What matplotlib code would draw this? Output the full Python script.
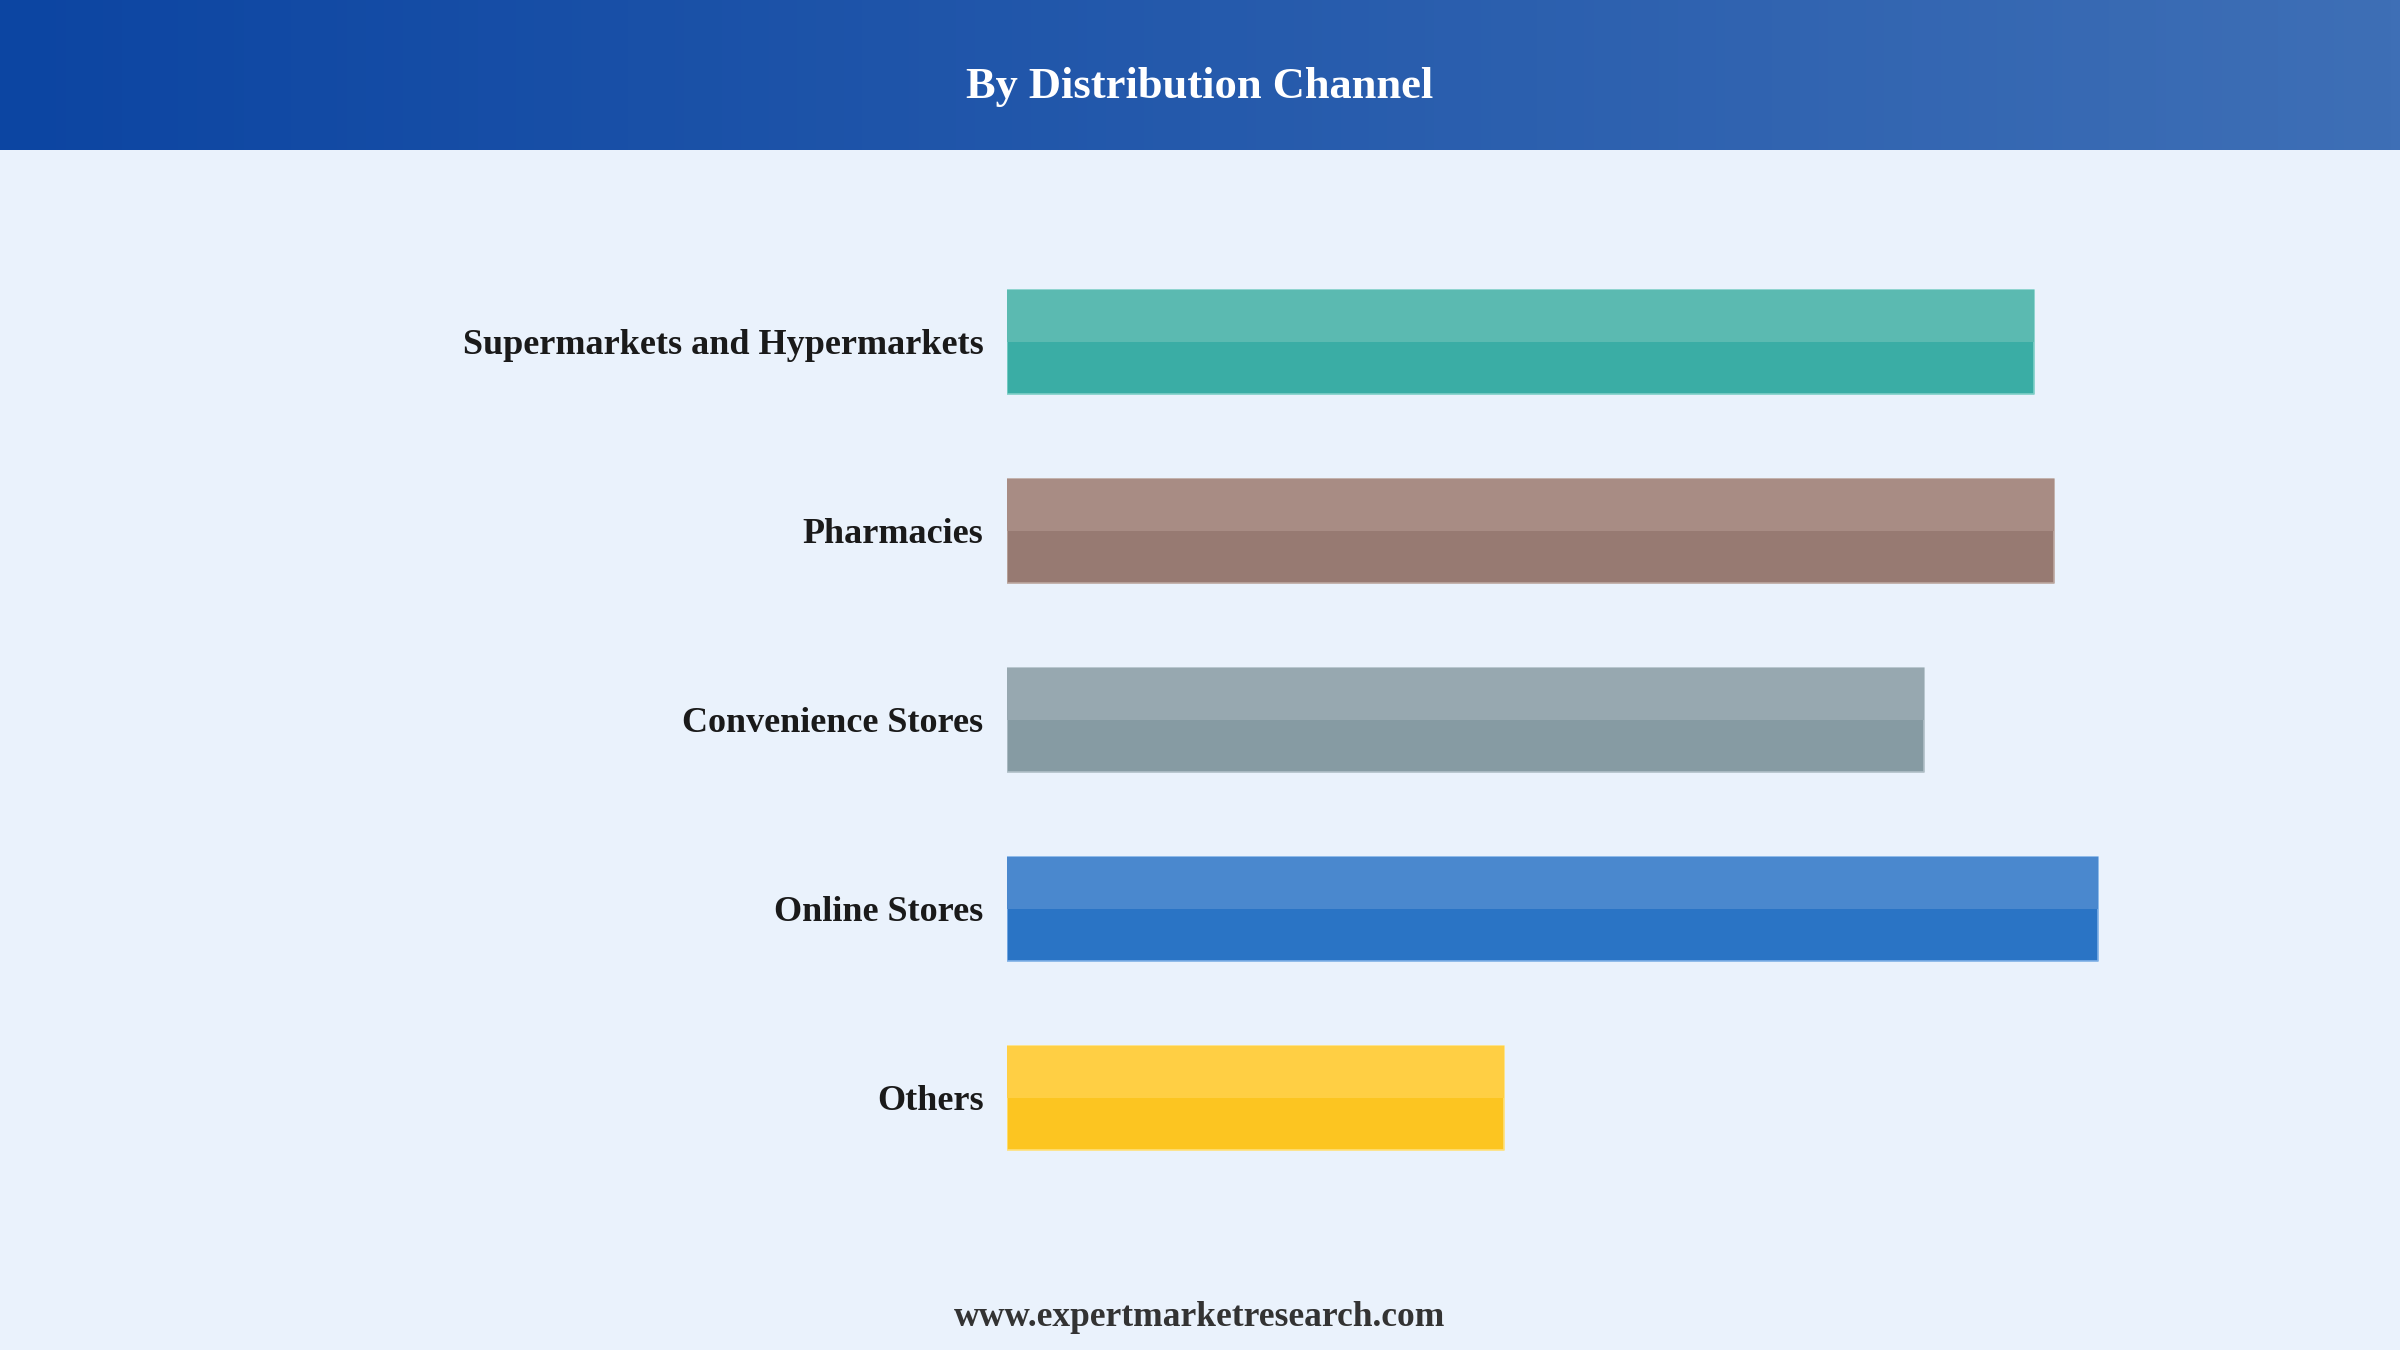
import numpy as np
import matplotlib

matplotlib.use("Agg")
import matplotlib.pyplot as plt
from matplotlib.colors import LinearSegmentedColormap

# relative bar lengths (no axis in the source, Online Stores = 100)
channels = ["Supermarkets and Hypermarkets", "Pharmacies", "Convenience Stores",
            "Online Stores", "Others"]
values = [94.1, 96.0, 84.1, 100.0, 45.6]
top_colors = ["#5bbab1", "#a88c84", "#97a8b0", "#4a88ce", "#ffcf44"]
base_colors = ["#3aada5", "#977a72", "#869ba3", "#2a74c5", "#fcc521"]
edge_colors = ["#7fcfc7", "#bca79f", "#b0bfc6", "#7fb0e6", "#ffe07a"]

TITLE = "By Distribution Channel"
FOOTER = "www.expertmarketresearch.com"
BG = "#eaf2fc"
SERIF = ["Liberation Serif", "DejaVu Serif"]

W, H = 2400, 1350
fig = plt.figure(figsize=(W / 100, H / 100), dpi=100, facecolor=BG)

# header band with horizontal gradient
hdr = fig.add_axes([0, 1 - 150 / H, 1, 150 / H])
cmap = LinearSegmentedColormap.from_list("hdr", ["#0c45a2", "#3e6fb6"])
hdr.imshow(np.linspace(0, 1, 256)[None, :], aspect="auto", cmap=cmap,
           extent=[0, 1, 0, 1])
hdr.set_axis_off()
hdr.text(0.5, 0.42, TITLE, ha="center", va="center", color="white",
         fontsize=32, fontweight="bold", family=SERIF)

# bars
px_top, px_bot = 150, 1250
left_px, width_px = 1007, 1200
ax = fig.add_axes([left_px / W, 1 - px_bot / H, width_px / W, (px_bot - px_top) / H])
ax.set_facecolor("none")
step, c0 = 189.0, 342.0
ax.set_ylim((px_bot - c0) / step, (px_top - c0) / step)
ax.set_xlim(0, 110)

y = np.arange(len(channels))
bh = 104 / step
ax.barh(y, values, height=bh, color=base_colors, edgecolor=edge_colors,
        linewidth=1.2, joinstyle="round", zorder=2)
ax.barh(y - bh / 4, values, height=bh / 2, color=top_colors, linewidth=0, zorder=3)

ax.set_yticks(y)
ax.set_yticklabels(channels, fontsize=26, fontweight="bold", family=SERIF,
                   color="#1a1a1a")
ax.tick_params(axis="y", length=0, pad=17)
ax.set_xticks([])
for s in ax.spines.values():
    s.set_visible(False)

fig.text(0.5, 1 - 1318 / H, FOOTER, ha="center", va="center", color="#333333",
         fontsize=25.5, fontweight="bold", family=SERIF)

fig.savefig("out.png", dpi=100, facecolor=BG)
